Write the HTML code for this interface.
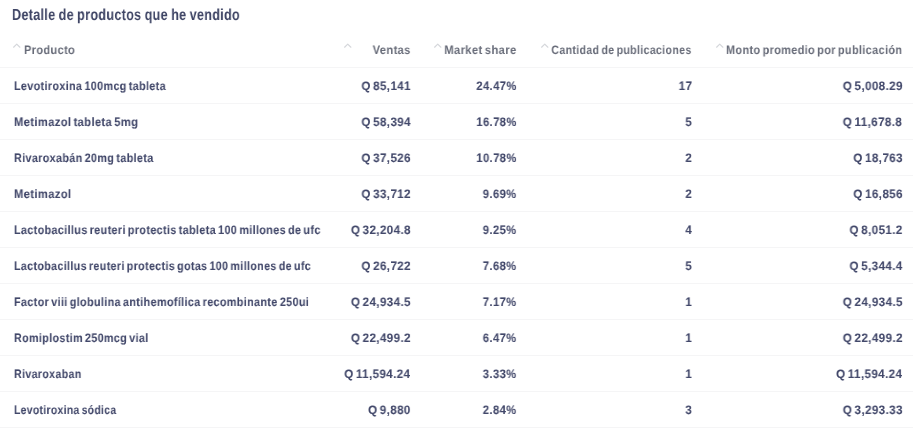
<!DOCTYPE html>
<html><head><meta charset="utf-8">
<style>
html,body{margin:0;padding:0;background:#fff;width:913px;height:448px;overflow:hidden}
body{position:relative;font-family:"Liberation Sans",sans-serif;text-rendering:geometricPrecision}
.t{word-spacing:-1.4px;letter-spacing:0.4px;position:absolute;will-change:transform;white-space:nowrap;font-weight:bold;font-size:12.2px;line-height:16px;height:16px}
.l{transform-origin:0 0}
.r{transform-origin:100% 0;text-align:right}
.title{word-spacing:-0.8px;letter-spacing:0.4px;position:absolute;will-change:transform;white-space:nowrap;font-weight:bold;left:11.8px;top:6.4px;font-size:16px;line-height:20px;color:#3f4565;-webkit-text-stroke:0px #3f4565;transform:scaleX(0.7862);transform-origin:0 0}
.h{color:#686c79;-webkit-text-stroke:0.0px #686c79}
.c{color:#42486a;-webkit-text-stroke:0.05px #42486a;font-weight:bold}
.n{-webkit-text-stroke-width:0.05px;font-weight:bold}
.ln{position:absolute;left:0;width:913px;height:1px;background:#f5f5f6}
.ch{position:absolute;width:10px;height:6px}
</style></head><body>
<div class="title">Detalle de productos que he vendido</div>
<svg class="ch" style="left:12px;top:43.3px" viewBox="0 0 10 6"><path d="M1.6 4.2 L4.75 1.1 L7.9 4.2" fill="none" stroke="#d5d7db" stroke-width="1.2" stroke-linecap="round" stroke-linejoin="round"/></svg>
<svg class="ch" style="left:343px;top:43.3px" viewBox="0 0 10 6"><path d="M1.6 4.2 L4.75 1.1 L7.9 4.2" fill="none" stroke="#d5d7db" stroke-width="1.2" stroke-linecap="round" stroke-linejoin="round"/></svg>
<svg class="ch" style="left:433px;top:43.3px" viewBox="0 0 10 6"><path d="M1.6 4.2 L4.75 1.1 L7.9 4.2" fill="none" stroke="#d5d7db" stroke-width="1.2" stroke-linecap="round" stroke-linejoin="round"/></svg>
<svg class="ch" style="left:540px;top:43.3px" viewBox="0 0 10 6"><path d="M1.6 4.2 L4.75 1.1 L7.9 4.2" fill="none" stroke="#d5d7db" stroke-width="1.2" stroke-linecap="round" stroke-linejoin="round"/></svg>
<svg class="ch" style="left:715px;top:43.3px" viewBox="0 0 10 6"><path d="M1.6 4.2 L4.75 1.1 L7.9 4.2" fill="none" stroke="#d5d7db" stroke-width="1.2" stroke-linecap="round" stroke-linejoin="round"/></svg>
<div class="t l h" style="left:24px;top:42px;transform:scaleX(0.9024)">Producto</div>
<div class="t r h" style="right:502.5px;top:42px;transform:scaleX(0.9115)">Ventas</div>
<div class="t r h" style="right:396.30000000000007px;top:42px;transform:scaleX(0.9198)">Market share</div>
<div class="t r h" style="right:221.60000000000002px;top:42px;transform:scaleX(0.868)">Cantidad de publicaciones</div>
<div class="t r h" style="right:10.600000000000023px;top:42px;transform:scaleX(0.8936)">Monto promedio por publicación</div>
<div class="ln" style="top:67px"></div>
<div class="t l c" style="left:13.5px;top:78px;transform:scaleX(0.8841)">Levotiroxina 100mcg tableta</div>
<div class="t r c n" style="right:502.5px;top:78px;transform:scaleX(0.954)">Q 85,141</div>
<div class="t r c n" style="right:396.30000000000007px;top:78px;transform:scaleX(0.9248)">24.47%</div>
<div class="t r c n" style="right:221.10000000000002px;top:78px;transform:scaleX(0.955)">17</div>
<div class="t r c n" style="right:10.5px;top:78px;transform:scaleX(0.956)">Q 5,008.29</div>
<div class="ln" style="top:103px"></div>
<div class="t l c" style="left:13.5px;top:114px;transform:scaleX(0.9171)">Metimazol tableta 5mg</div>
<div class="t r c n" style="right:502.5px;top:114px;transform:scaleX(0.954)">Q 58,394</div>
<div class="t r c n" style="right:396.30000000000007px;top:114px;transform:scaleX(0.9248)">16.78%</div>
<div class="t r c n" style="right:221.10000000000002px;top:114px;transform:scaleX(0.955)">5</div>
<div class="t r c n" style="right:10.5px;top:114px;transform:scaleX(0.956)">Q 11,678.8</div>
<div class="ln" style="top:139px"></div>
<div class="t l c" style="left:13.5px;top:150px;transform:scaleX(0.884)">Rivaroxabán 20mg tableta</div>
<div class="t r c n" style="right:502.5px;top:150px;transform:scaleX(0.954)">Q 37,526</div>
<div class="t r c n" style="right:396.30000000000007px;top:150px;transform:scaleX(0.9248)">10.78%</div>
<div class="t r c n" style="right:221.10000000000002px;top:150px;transform:scaleX(0.955)">2</div>
<div class="t r c n" style="right:10.5px;top:150px;transform:scaleX(0.956)">Q 18,763</div>
<div class="ln" style="top:175px"></div>
<div class="t l c" style="left:13.5px;top:186px;transform:scaleX(0.918)">Metimazol</div>
<div class="t r c n" style="right:502.5px;top:186px;transform:scaleX(0.954)">Q 33,712</div>
<div class="t r c n" style="right:396.30000000000007px;top:186px;transform:scaleX(0.9248)">9.69%</div>
<div class="t r c n" style="right:221.10000000000002px;top:186px;transform:scaleX(0.955)">2</div>
<div class="t r c n" style="right:10.5px;top:186px;transform:scaleX(0.956)">Q 16,856</div>
<div class="ln" style="top:211px"></div>
<div class="t l c" style="left:13.5px;top:222px;transform:scaleX(0.8855)">Lactobacillus reuteri protectis tableta 100 millones de ufc</div>
<div class="t r c n" style="right:502.5px;top:222px;transform:scaleX(0.954)">Q 32,204.8</div>
<div class="t r c n" style="right:396.30000000000007px;top:222px;transform:scaleX(0.9248)">9.25%</div>
<div class="t r c n" style="right:221.10000000000002px;top:222px;transform:scaleX(0.955)">4</div>
<div class="t r c n" style="right:10.5px;top:222px;transform:scaleX(0.956)">Q 8,051.2</div>
<div class="ln" style="top:247px"></div>
<div class="t l c" style="left:13.5px;top:258px;transform:scaleX(0.8769)">Lactobacillus reuteri protectis gotas 100 millones de ufc</div>
<div class="t r c n" style="right:502.5px;top:258px;transform:scaleX(0.954)">Q 26,722</div>
<div class="t r c n" style="right:396.30000000000007px;top:258px;transform:scaleX(0.9248)">7.68%</div>
<div class="t r c n" style="right:221.10000000000002px;top:258px;transform:scaleX(0.955)">5</div>
<div class="t r c n" style="right:10.5px;top:258px;transform:scaleX(0.956)">Q 5,344.4</div>
<div class="ln" style="top:283px"></div>
<div class="t l c" style="left:13.5px;top:294px;transform:scaleX(0.8856)">Factor viii globulina antihemofílica recombinante 250ui</div>
<div class="t r c n" style="right:502.5px;top:294px;transform:scaleX(0.954)">Q 24,934.5</div>
<div class="t r c n" style="right:396.30000000000007px;top:294px;transform:scaleX(0.9248)">7.17%</div>
<div class="t r c n" style="right:221.10000000000002px;top:294px;transform:scaleX(0.955)">1</div>
<div class="t r c n" style="right:10.5px;top:294px;transform:scaleX(0.956)">Q 24,934.5</div>
<div class="ln" style="top:319px"></div>
<div class="t l c" style="left:13.5px;top:330px;transform:scaleX(0.881)">Romiplostim 250mcg vial</div>
<div class="t r c n" style="right:502.5px;top:330px;transform:scaleX(0.954)">Q 22,499.2</div>
<div class="t r c n" style="right:396.30000000000007px;top:330px;transform:scaleX(0.9248)">6.47%</div>
<div class="t r c n" style="right:221.10000000000002px;top:330px;transform:scaleX(0.955)">1</div>
<div class="t r c n" style="right:10.5px;top:330px;transform:scaleX(0.956)">Q 22,499.2</div>
<div class="ln" style="top:355px"></div>
<div class="t l c" style="left:13.5px;top:366px;transform:scaleX(0.8716)">Rivaroxaban</div>
<div class="t r c n" style="right:502.5px;top:366px;transform:scaleX(0.954)">Q 11,594.24</div>
<div class="t r c n" style="right:396.30000000000007px;top:366px;transform:scaleX(0.9248)">3.33%</div>
<div class="t r c n" style="right:221.10000000000002px;top:366px;transform:scaleX(0.955)">1</div>
<div class="t r c n" style="right:10.5px;top:366px;transform:scaleX(0.956)">Q 11,594.24</div>
<div class="ln" style="top:391px"></div>
<div class="t l c" style="left:13.5px;top:402px;transform:scaleX(0.8489)">Levotiroxina sódica</div>
<div class="t r c n" style="right:502.5px;top:402px;transform:scaleX(0.954)">Q 9,880</div>
<div class="t r c n" style="right:396.30000000000007px;top:402px;transform:scaleX(0.9248)">2.84%</div>
<div class="t r c n" style="right:221.10000000000002px;top:402px;transform:scaleX(0.955)">3</div>
<div class="t r c n" style="right:10.5px;top:402px;transform:scaleX(0.956)">Q 3,293.33</div>
<div class="ln" style="top:427px"></div>
</body></html>
